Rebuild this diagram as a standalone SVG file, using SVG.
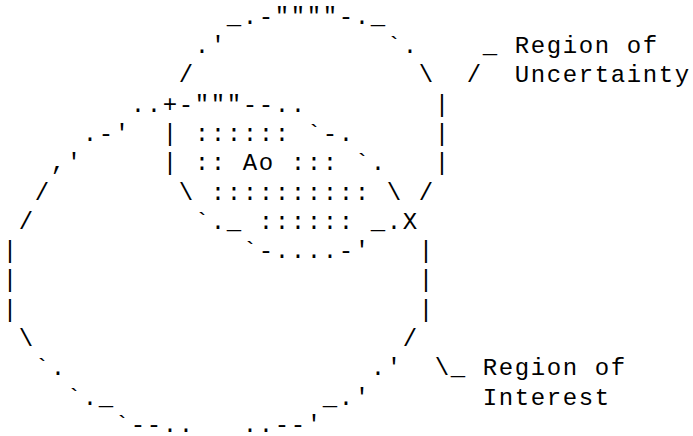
<svg xmlns="http://www.w3.org/2000/svg" width="693" height="436" viewBox="0 0 693 436">
<style>
text { font-family: "Liberation Mono", "Courier New", monospace; font-size: 24px; letter-spacing: 1.6px; fill: #000; white-space: pre; }
</style>
<rect x="0" y="0" width="693" height="436" fill="#fff"/>
<g id="region-uncertainty">
<text x="226.8" y="23.7">_.-""""-._</text>
<text x="194.8" y="53.0">.'</text>
<text x="386.8" y="53.0">`.</text>
<text x="178.8" y="82.3">/</text>
<text x="418.8" y="82.3">\</text>
<text x="434.8" y="111.6">|</text>
<text x="162.8" y="140.9">|</text>
<text x="434.8" y="140.9">|</text>
<text x="162.8" y="170.2">|</text>
<text x="434.8" y="170.2">|</text>
<text x="178.8" y="199.5">\</text>
<text x="418.8" y="199.5">/</text>
<text x="194.8" y="228.8">`._</text>
<text x="370.8" y="228.8">_.X</text>
<text x="242.8" y="258.1">`-....-'</text>
</g>
<g id="overlap-ao">
<text x="194.8" y="140.9">::::::</text>
<text x="194.8" y="170.2">::</text>
<text x="242.8" y="170.2">Ao</text>
<text x="290.8" y="170.2">:::</text>
<text x="210.8" y="199.5">::::::::::</text>
<text x="258.8" y="228.8">::::::</text>
</g>
<g id="region-interest">
<text x="130.8" y="111.6">..+-"""--..</text>
<text x="82.8" y="140.9">.-'</text>
<text x="306.8" y="140.9">`-.</text>
<text x="50.8" y="170.2">,'</text>
<text x="354.8" y="170.2">`.</text>
<text x="34.8" y="199.5">/</text>
<text x="386.8" y="199.5">\</text>
<text x="18.8" y="228.8">/</text>
<text x="2.8" y="258.1">|</text>
<text x="418.8" y="258.1">|</text>
<text x="2.8" y="287.4">|</text>
<text x="418.8" y="287.4">|</text>
<text x="2.8" y="316.7">|</text>
<text x="418.8" y="316.7">|</text>
<text x="18.8" y="346.0">\</text>
<text x="402.8" y="346.0">/</text>
<text x="34.8" y="375.3">`.</text>
<text x="370.8" y="375.3">.'</text>
<text x="66.8" y="404.6">`._</text>
<text x="322.8" y="404.6">_.'</text>
<text x="114.8" y="432">`--..</text>
<text x="242.8" y="432">..--'</text>
</g>
<g id="label-uncertainty">
<text x="482.8" y="53.0">_</text>
<text x="514.8" y="53.0">Region of</text>
<text x="466.8" y="82.3">/</text>
<text x="514.8" y="82.3">Uncertainty</text>
</g>
<g id="label-interest">
<text x="434.8" y="375.3">\_</text>
<text x="482.8" y="375.3">Region of</text>
<text x="482.8" y="404.6">Interest</text>
</g>
<g id="connectors"></g>
</svg>
